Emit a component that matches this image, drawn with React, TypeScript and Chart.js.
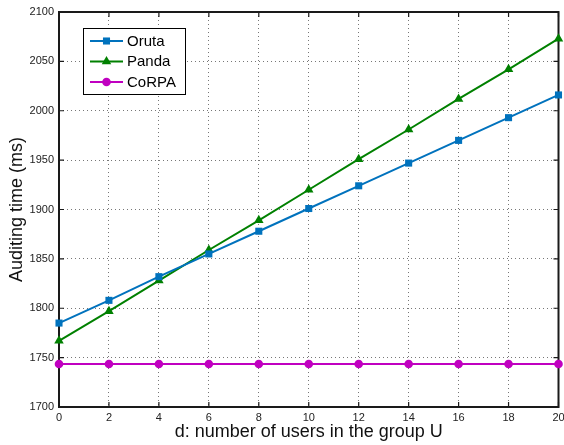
import React, { useEffect, useRef } from 'react';
import { Chart, registerables } from 'chart.js';

Chart.register(...registerables);

const xValues = [0, 2, 4, 6, 8, 10, 12, 14, 16, 18, 20];
const orutaValues = [1785, 1808, 1832, 1855, 1878, 1901, 1924, 1947, 1970, 1993, 2016];
const pandaValues = [1767, 1797, 1828, 1859, 1889, 1920, 1951, 1981, 2012, 2042, 2073];
const corpaValues = [1743.5, 1743.5, 1743.5, 1743.5, 1743.5, 1743.5, 1743.5, 1743.5, 1743.5, 1743.5, 1743.5];
const seriesNames = ['Oruta', 'Panda', 'CoRPA'];
const xTitle = 'd: number of users in the group U';
const yTitle = 'Auditing time (ms)';

const FONT = '"Liberation Sans", Arial, Helvetica, sans-serif';
const BLUE = '#0072BD';
const GREEN = '#008000';
const MAGENTA = '#C000C0';

function drawMarker(ctx: CanvasRenderingContext2D, style: string, x: number, y: number, r: number, color: string) {
  ctx.save();
  ctx.fillStyle = color;
  ctx.beginPath();
  if (style === 'rect') {
    const s = Math.SQRT1_2 * r;
    ctx.rect(x - s, y - s, 2 * s, 2 * s);
  } else if (style === 'triangle') {
    ctx.moveTo(x, y - r);
    ctx.lineTo(x + r * Math.sin(Math.PI / 3), y + r * 0.5);
    ctx.lineTo(x - r * Math.sin(Math.PI / 3), y + r * 0.5);
    ctx.closePath();
  } else {
    ctx.arc(x, y, r, 0, Math.PI * 2);
  }
  ctx.fill();
  ctx.restore();
}

export default function App() {
  const ref = useRef<HTMLCanvasElement | null>(null);

  useEffect(() => {
    if (!ref.current) return;

    const framePlugin = {
      id: 'frame',
      beforeDatasetsDraw(chart: any) {
        const { ctx, chartArea } = chart;
        const { left, right, top, bottom } = chartArea;
        const xs = chart.scales.x;
        const ys = chart.scales.y;
        ctx.save();
        ctx.strokeStyle = '#1a1a1a';
        ctx.lineWidth = 1.2;
        const tl = 5;
        ctx.beginPath();
        xs.ticks.forEach((t: any) => {
          const px = xs.getPixelForValue(t.value);
          ctx.moveTo(px, bottom);
          ctx.lineTo(px, bottom - tl);
          ctx.moveTo(px, top);
          ctx.lineTo(px, top + tl);
        });
        ys.ticks.forEach((t: any) => {
          const py = ys.getPixelForValue(t.value);
          ctx.moveTo(left, py);
          ctx.lineTo(left + tl, py);
          ctx.moveTo(right, py);
          ctx.lineTo(right - tl, py);
        });
        ctx.stroke();
        ctx.lineWidth = 2;
        ctx.strokeRect(left, top, right - left, bottom - top);
        ctx.restore();
      },
    };

    const legendPlugin = {
      id: 'boxLegend',
      afterDraw(chart: any) {
        const { ctx } = chart;
        const bx = 83, by = 28, bw = 102, bh = 66;
        ctx.save();
        ctx.fillStyle = '#ffffff';
        ctx.fillRect(bx, by, bw, bh);
        ctx.strokeStyle = '#000000';
        ctx.lineWidth = 1;
        ctx.strokeRect(bx + 0.5, by + 0.5, bw, bh);
        const rows = [41, 61.5, 82];
        chart.data.datasets.forEach((ds: any, i: number) => {
          const y = rows[i];
          ctx.strokeStyle = ds.borderColor;
          ctx.lineWidth = 2;
          ctx.beginPath();
          ctx.moveTo(90, y);
          ctx.lineTo(123, y);
          ctx.stroke();
          drawMarker(ctx, ds.pointStyle, 106.5, y, ds.pointRadius, ds.pointBackgroundColor);
          ctx.fillStyle = '#000000';
          ctx.font = `15px ${FONT}`;
          ctx.textBaseline = 'middle';
          ctx.textAlign = 'left';
          ctx.fillText(ds.label, 127, y + 0.5);
        });
        ctx.restore();
      },
    };

    const mk = (vals: number[]) => xValues.map((x, i) => ({ x, y: vals[i] }));
    const plain = (v: any) => String(v);

    const chart = new Chart(ref.current, {
      type: 'line',
      data: {
        datasets: [
          {
            label: seriesNames[0],
            data: mk(orutaValues),
            borderColor: BLUE,
            backgroundColor: BLUE,
            pointBackgroundColor: BLUE,
            pointBorderColor: BLUE,
            pointBorderWidth: 0,
            pointStyle: 'rect',
            pointRadius: 5,
            borderWidth: 2,
            clip: false as any,
          },
          {
            label: seriesNames[1],
            data: mk(pandaValues),
            borderColor: GREEN,
            backgroundColor: GREEN,
            pointBackgroundColor: GREEN,
            pointBorderColor: GREEN,
            pointBorderWidth: 0,
            pointStyle: 'triangle',
            pointRadius: 5.5,
            borderWidth: 2,
            clip: false as any,
          },
          {
            label: seriesNames[2],
            data: mk(corpaValues),
            borderColor: MAGENTA,
            backgroundColor: MAGENTA,
            pointBackgroundColor: MAGENTA,
            pointBorderColor: MAGENTA,
            pointBorderWidth: 0,
            pointStyle: 'circle',
            pointRadius: 4.3,
            borderWidth: 2,
            clip: false as any,
          },
        ],
      },
      options: {
        animation: false,
        responsive: false,
        maintainAspectRatio: false,
        layout: { padding: { left: 0, right: 4, top: 12, bottom: 0 } },
        plugins: {
          legend: { display: false },
          tooltip: { enabled: false },
        },
        elements: { line: { tension: 0 } },
        scales: {
          x: {
            type: 'linear',
            min: 0,
            max: 20,
            border: { display: false, dash: [1, 3] },
            grid: { color: '#777777', lineWidth: 1, drawTicks: false, tickLength: 0, borderDash: [1, 3] },
            ticks: {
              stepSize: 2,
              padding: 4,
              color: '#222222',
              font: { family: FONT, size: 11 },
              maxRotation: 0,
              autoSkip: false,
              callback: plain,
            },
            title: {
              display: true,
              text: xTitle,
              color: '#111111',
              font: { family: FONT, size: 18 },
              padding: { top: 0, bottom: 2 },
            },
            afterFit(scale: any) {
              scale.height = 38;
              scale.paddingLeft = 0;
              scale.paddingRight = 0;
            },
          },
          y: {
            type: 'linear',
            min: 1700,
            max: 2100,
            border: { display: false, dash: [1, 3] },
            grid: { color: '#777777', lineWidth: 1, drawTicks: false, tickLength: 0, borderDash: [1, 3] },
            ticks: {
              stepSize: 50,
              padding: 5,
              color: '#222222',
              font: { family: FONT, size: 11 },
              autoSkip: false,
              callback: plain,
            },
            title: {
              display: true,
              text: yTitle,
              color: '#111111',
              font: { family: FONT, size: 18 },
              padding: { top: 6, bottom: 0 },
            },
            afterFit(scale: any) {
              scale.width = 59;
              scale.paddingTop = 0;
              scale.paddingBottom = 0;
            },
          },
        },
      },
      plugins: [framePlugin, legendPlugin],
    } as any);

    return () => chart.destroy();
  }, []);

  return (
    <div style={{ position: 'fixed', left: 0, top: 0, width: 564, height: 445, background: '#fff' }}>
      <canvas ref={ref} width={564} height={445} style={{ display: 'block' }} />
    </div>
  );
}
